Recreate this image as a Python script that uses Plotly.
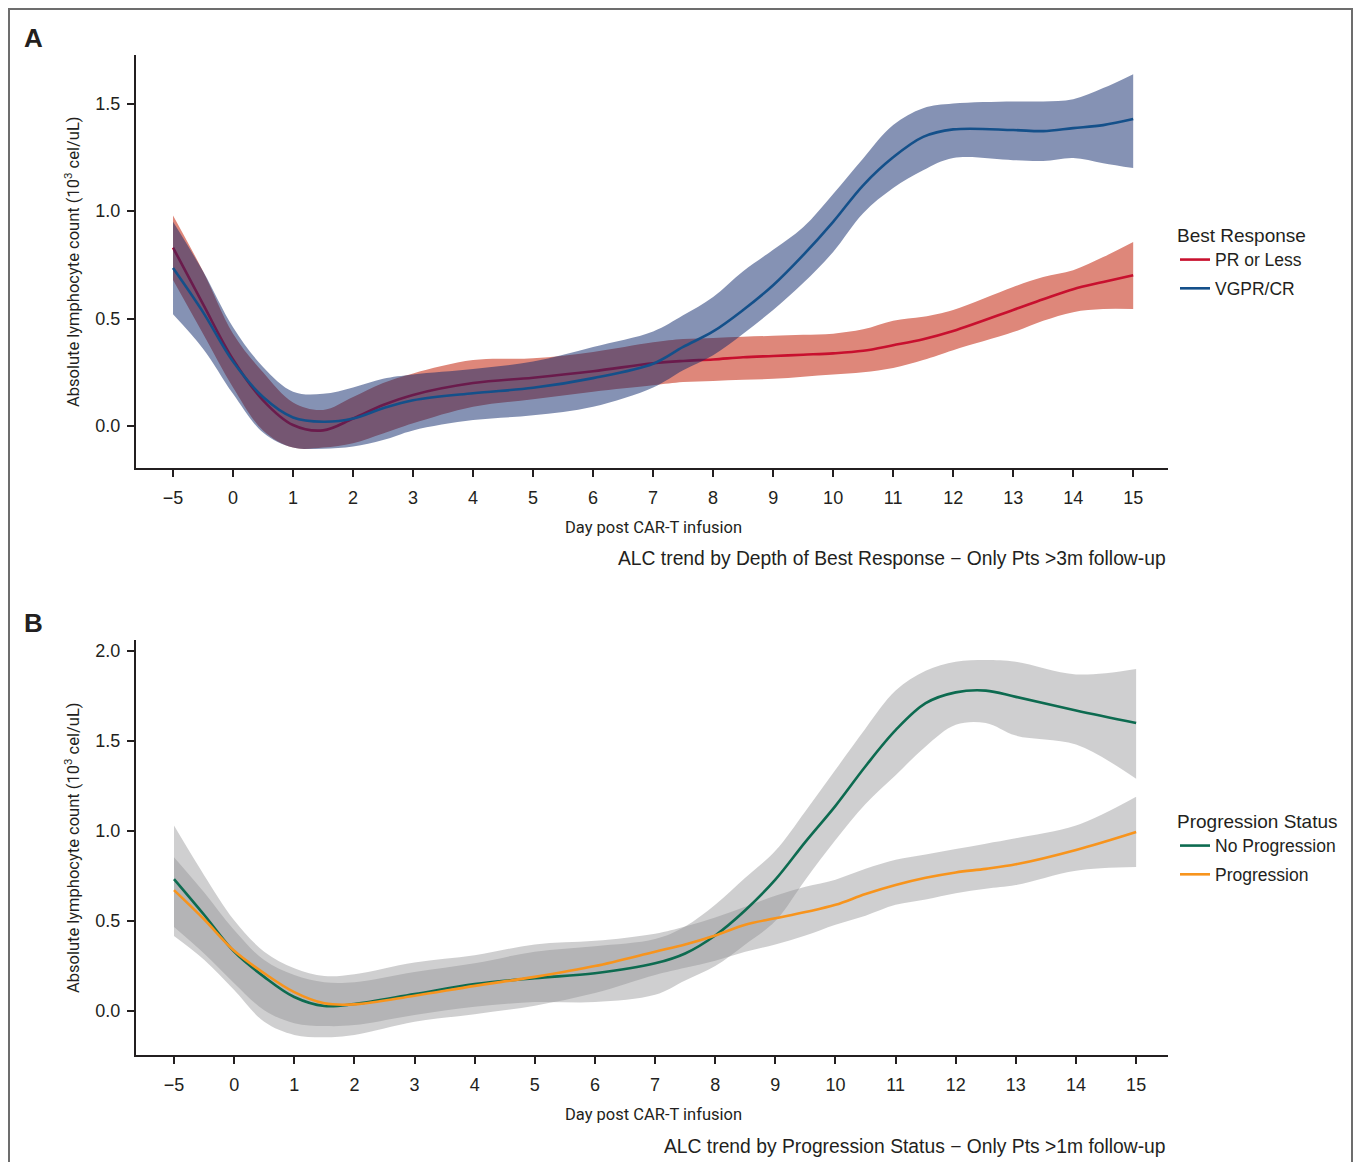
import plotly.graph_objects as go

# ---------------- Data ----------------
tick_days = [-5, 0, 1, 2, 3, 4, 5, 6, 7, 8, 9, 10, 11, 12, 13, 14, 15]
tick_labels = ["\u22125", "0", "1", "2", "3", "4", "5", "6", "7", "8", "9",
               "10", "11", "12", "13", "14", "15"]

# Panel A: Best response
days_a = [-5, -2.5, 0, 0.5, 1, 1.5, 2, 2.5, 3, 4, 5, 6, 7, 7.5, 8, 8.5, 9, 9.5,
          10, 10.5, 11, 11.5, 12, 13, 13.5, 14, 14.5, 15]
pr_mean = [0.83, 0.567, 0.31, 0.12, 0.005, -0.02, 0.035, 0.098, 0.145, 0.20, 0.225,
           0.255, 0.292, 0.303, 0.31, 0.32, 0.326, 0.332, 0.338, 0.35, 0.376, 0.404,
           0.442, 0.54, 0.59, 0.637, 0.67, 0.702]
pr_upper = [0.98, 0.72, 0.43, 0.25, 0.11, 0.075, 0.135, 0.20, 0.245, 0.307, 0.315,
            0.345, 0.39, 0.405, 0.41, 0.415, 0.42, 0.425, 0.43, 0.45, 0.49, 0.508,
            0.54, 0.647, 0.693, 0.725, 0.786, 0.856]
pr_lower = [0.68, 0.43, 0.18, -0.02, -0.10, -0.10, -0.08, -0.035, 0.013, 0.09, 0.125,
            0.16, 0.19, 0.205, 0.21, 0.215, 0.22, 0.23, 0.24, 0.25, 0.27, 0.307,
            0.353, 0.437, 0.49, 0.53, 0.544, 0.544]
vg_mean = [0.735, 0.53, 0.30, 0.135, 0.04, 0.02, 0.035, 0.083, 0.12, 0.153, 0.178,
           0.223, 0.29, 0.368, 0.44, 0.54, 0.655, 0.795, 0.95, 1.12, 1.25, 1.345,
           1.38, 1.377, 1.372, 1.386, 1.40, 1.428]
vg_upper = [0.95, 0.72, 0.46, 0.275, 0.16, 0.15, 0.18, 0.22, 0.24, 0.265, 0.30,
            0.368, 0.44, 0.515, 0.60, 0.72, 0.82, 0.925, 1.08, 1.245, 1.40, 1.478,
            1.50, 1.51, 1.51, 1.52, 1.572, 1.637]
vg_lower = [0.52, 0.36, 0.15, -0.03, -0.10, -0.105, -0.095, -0.065, -0.02, 0.028, 0.05,
            0.09, 0.18, 0.26, 0.33, 0.43, 0.54, 0.665, 0.81, 0.99, 1.107, 1.19,
            1.247, 1.237, 1.233, 1.247, 1.223, 1.20]

# Panel B: Progression status
days_b = [-5, -2.5, 0, 0.5, 1, 1.5, 2, 3, 4, 5, 6, 7, 7.5, 8, 8.5, 9, 9.5, 10,
          10.5, 11, 11.5, 12, 12.5, 13, 14, 15]
np_mean = [0.733, 0.535, 0.33, 0.19, 0.078, 0.028, 0.039, 0.094, 0.15, 0.183, 0.21,
           0.265, 0.32, 0.42, 0.56, 0.73, 0.94, 1.14, 1.36, 1.56, 1.71, 1.77, 1.78,
           1.745, 1.67, 1.60]
np_upper = [0.855, 0.66, 0.45, 0.283, 0.20, 0.16, 0.16, 0.217, 0.265, 0.33, 0.36,
            0.40, 0.47, 0.59, 0.74, 0.89, 1.11, 1.34, 1.57, 1.78, 1.89, 1.94, 1.95,
            1.94, 1.87, 1.90]
np_lower = [0.467, 0.32, 0.155, 0.005, -0.067, -0.083, -0.078, -0.022, 0.024, 0.05,
            0.05, 0.09, 0.17, 0.25, 0.37, 0.50, 0.73, 0.95, 1.15, 1.31, 1.47, 1.59,
            1.60, 1.53, 1.48, 1.29]
pg_mean = [0.672, 0.51, 0.335, 0.21, 0.105, 0.043, 0.037, 0.085, 0.14, 0.19, 0.25,
           0.33, 0.37, 0.42, 0.48, 0.515, 0.55, 0.59, 0.65, 0.70, 0.74, 0.77, 0.79,
           0.815, 0.895, 0.995]
pg_upper = [1.03, 0.755, 0.505, 0.33, 0.238, 0.195, 0.205, 0.27, 0.31, 0.37, 0.39,
            0.43, 0.47, 0.52, 0.58, 0.64, 0.69, 0.73, 0.79, 0.84, 0.87, 0.90, 0.93,
            0.96, 1.03, 1.19]
pg_lower = [0.417, 0.285, 0.117, -0.06, -0.133, -0.146, -0.133, -0.06, -0.017, 0.03,
            0.10, 0.20, 0.24, 0.28, 0.33, 0.37, 0.42, 0.48, 0.53, 0.59, 0.62, 0.655,
            0.68, 0.70, 0.78, 0.80]

# ---------------- Helpers ----------------
OFF = 8                      # default page margin around the plot div
W, H = 1361 - OFF, 1170 - 2 * OFF


def day_to_pos(d):
    # the axis gives the span -5..0 the same width as one day
    return (d + 5) / 5 if d < 0 else d + 1


def px(x):
    return (x - OFF) / W


def py(y):
    return 1 - (y - OFF) / H


AXC = "#231f20"
SANS = "Liberation Sans, Arial, Helvetica, sans-serif"
TITLEF = "Roboto, Liberation Sans, Arial, sans-serif"
TICKFONT = dict(family=SANS, size=18, color=AXC)

fig = go.Figure()


def band(xs, lo, hi, color, xa, ya):
    pos = [day_to_pos(d) for d in xs]
    fig.add_trace(go.Scatter(x=pos, y=lo, mode="lines", line=dict(width=0, shape="spline"),
                             showlegend=False, hoverinfo="skip", xaxis=xa, yaxis=ya))
    fig.add_trace(go.Scatter(x=pos, y=hi, mode="lines", line=dict(width=0, shape="spline"),
                             fill="tonexty", fillcolor=color, showlegend=False,
                             hoverinfo="skip", xaxis=xa, yaxis=ya))


def line(xs, ys, color, name, xa, ya, legend):
    pos = [day_to_pos(d) for d in xs]
    fig.add_trace(go.Scatter(x=pos, y=ys, mode="lines", name=name, legendgroup=name,
                             line=dict(color=color, width=2.6, shape="spline"),
                             xaxis=xa, yaxis=ya, legend=legend))


RED = "#c8102e"
BLUE = "#14508a"
GREEN = "#0d6b50"
ORANGE = "#f7941d"

# Panel A
band(days_a, pr_lower, pr_upper, "rgb(222,135,122)", "x", "y")
line(days_a, pr_mean, RED, "PR or Less", "x", "y", "legend")
band(days_a, vg_lower, vg_upper, "rgba(11,37,105,0.5)", "x", "y")
line(days_a, vg_mean, BLUE, "VGPR/CR", "x", "y", "legend")

# Panel B
GRAY = "rgba(145,145,148,0.44)"
band(days_b, np_lower, np_upper, GRAY, "x2", "y2")
band(days_b, pg_lower, pg_upper, GRAY, "x2", "y2")
line(days_b, np_mean, GREEN, "No Progression", "x2", "y2", "legend2")
line(days_b, pg_mean, ORANGE, "Progression", "x2", "y2", "legend2")

tickpos = [day_to_pos(d) for d in tick_days]

xcommon = dict(tickmode="array", tickvals=tickpos, ticktext=tick_labels,
               showline=True, linecolor=AXC, linewidth=2, ticks="outside",
               ticklen=7, tickwidth=2, tickcolor=AXC, showgrid=False, zeroline=False,
               tickfont=TICKFONT, ticklabelstandoff=5)
ycommon = dict(showline=True, linecolor=AXC, linewidth=2, ticks="outside",
               ticklen=7, tickwidth=2, tickcolor=AXC, showgrid=False, zeroline=False,
               tickfont=TICKFONT, tickformat=".1f", ticklabelstandoff=3)

legend_common = dict(xanchor="left", yanchor="top", bgcolor="rgba(0,0,0,0)",
                     itemwidth=30, tracegroupgap=3, traceorder="grouped",
                     font=dict(size=17.5, color=AXC, family=SANS))

fig.update_layout(
    width=W, height=H,
    margin=dict(l=0, r=0, t=0, b=0),
    paper_bgcolor="white", plot_bgcolor="white",
    xaxis=dict(domain=[px(136), px(1168)], range=[-0.617, 16.58], anchor="y", **xcommon),
    yaxis=dict(domain=[py(468), py(55)], range=[-0.195, 1.726], anchor="x",
               tickvals=[0, 0.5, 1.0, 1.5], **ycommon),
    xaxis2=dict(domain=[px(136), px(1168)], range=[-0.632, 16.53], anchor="y2", **xcommon),
    yaxis2=dict(domain=[py(1055), py(640)], range=[-0.244, 2.061], anchor="x2",
                tickvals=[0, 0.5, 1.0, 1.5, 2.0], **ycommon),
    legend=dict(x=px(1175), y=py(217),
                title=dict(text="Best Response", font=dict(size=19, color=AXC, family=SANS)),
                **legend_common),
    legend2=dict(x=px(1175), y=py(803),
                 title=dict(text="Progression Status", font=dict(size=19, color=AXC, family=SANS)),
                 **legend_common),
    showlegend=True,
)

ann = []
ann.append(dict(text="<b>A</b>", x=px(22), y=py(38), xanchor="left", yanchor="middle",
                font=dict(size=26, family=SANS, color=AXC)))
ann.append(dict(text="<b>B</b>", x=px(22), y=py(623), xanchor="left", yanchor="middle",
                font=dict(size=26, family=SANS, color=AXC)))
for yc in (527, 1114):
    ann.append(dict(text="Day post CAR-T infusion", x=px(653), y=py(yc), xanchor="center",
                    yanchor="middle", font=dict(size=16.5, family=TITLEF, color=AXC)))
for yc in (262, 848):
    ann.append(dict(text="Absolute lymphocyte count (10<sup>3</sup> cel/uL)", x=px(72), y=py(yc),
                    xanchor="center", yanchor="middle", textangle=-90,
                    font=dict(size=16.5, family=TITLEF, color=AXC)))
ann.append(dict(text="ALC trend by Depth of Best Response \u2212 Only Pts >3m follow-up",
                x=px(1168), y=py(558), xanchor="right", yanchor="middle",
                font=dict(size=19.3, family=SANS, color=AXC)))
ann.append(dict(text="ALC trend by Progression Status \u2212 Only Pts >1m follow-up",
                x=px(1168), y=py(1146), xanchor="right", yanchor="middle",
                font=dict(size=19.3, family=SANS, color=AXC)))
for a in ann:
    a.update(xref="paper", yref="paper", showarrow=False)
fig.update_layout(annotations=ann)

fig.add_shape(type="rect", xref="paper", yref="paper", x0=px(9), x1=px(1352),
              y0=py(1180), y1=py(9), line=dict(color="#6d6d6d", width=2),
              fillcolor="rgba(0,0,0,0)", layer="above")

fig.write_html("out.html")
